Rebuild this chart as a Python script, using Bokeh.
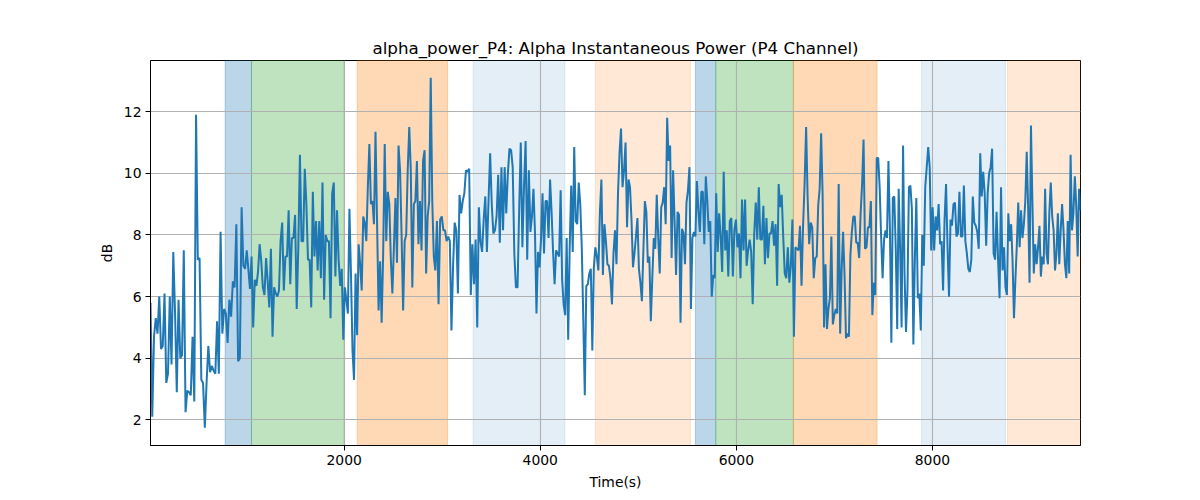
import numpy as np
from bokeh.plotting import figure
from bokeh.models import BoxAnnotation, FixedTicker, Range1d
from bokeh.embed import file_html
from bokeh.resources import INLINE

title_text = "alpha_power_P4: Alpha Instantaneous Power (P4 Channel)"
x_label = "Time(s)"
y_label = "dB"

x_ticks = [2000, 4000, 6000, 8000]
y_ticks = [2, 4, 6, 8, 10, 12]

# time boundaries of the read-off segments (s)
seg_bounds = [25, 990, 1960, 2930, 3900, 4870, 5840, 6805, 7775, 8745, 9510]

seg1 = [5.8, 2.1, 4.7, 5.3, 4.8, 6.0, 4.3, 4.4, 6.1, 3.2, 3.5, 6.0, 3.8, 7.45, 5.5, 2.9, 5.9, 4.0, 4.1,
        7.5, 2.25, 2.95, 2.9, 2.8, 4.7, 2.6, 11.9, 7.2, 7.25, 3.3, 3.2, 1.75, 3.2, 4.4, 3.55, 3.75, 3.6,
        3.5, 5.2, 3.5, 8.1, 4.8, 5.6, 5.45, 4.5, 5.9, 5.35, 6.5, 6.3, 8.35, 3.9, 4.0, 8.9, 7.0]
seg2 = [6.9, 7.5, 6.9, 6.25, 7.3, 5.0, 6.55, 6.35, 6.8, 7.7, 7.15, 6.3, 6.05, 7.25, 6.5, 5.65, 7.55,
        4.7, 6.3, 6.1, 6.0, 6.2, 7.8, 8.4, 6.2, 7.3, 7.3, 8.8, 6.4, 7.9, 7.9, 8.65, 5.6, 7.6, 10.6, 7.8,
        7.8, 10.15, 9.0, 7.2, 7.2, 5.65, 9.4, 7.3, 8.45, 6.85, 8.45, 6.6, 9.7, 5.9, 8.0, 7.8, 7.8, 5.3,
        9.35, 9.7, 6.65, 8.8, 7.2]
seg3 = [6.35, 6.9, 4.6, 6.3, 5.9, 5.45, 8.85, 6.75, 4.25, 3.3, 6.75, 4.75, 7.7, 7.05, 6.2, 8.6, 8.4,
        7.8, 9.55, 10.95, 9.0, 9.1, 8.35, 11.35, 8.45, 5.55, 7.15, 5.15, 7.4, 10.95, 7.8, 9.4, 9.0, 7.2,
        6.1, 7.6, 9.2, 7.1, 10.9, 10.1, 8.0, 5.55, 7.8, 8.0, 10.1, 11.5, 10.1, 6.3, 9.0, 9.1, 10.4, 7.7,
        9.1, 7.5, 10.4, 10.75, 6.75, 8.6, 9.1, 13.1, 9.1, 7.3]
seg4 = [6.85, 8.45, 5.75, 8.5, 8.6, 8.15, 8.15, 7.8, 7.95, 7.8, 4.9, 7.0, 8.4, 8.15, 6.1, 9.3, 8.7,
        9.1, 9.35, 10.1, 10.05, 10.15, 6.05, 7.7, 6.4, 7.85, 5.0, 8.9, 7.8, 7.45, 8.5, 9.25, 7.45, 9.1,
        10.65, 9.0, 8.05, 8.15, 8.6, 9.95, 7.75, 10.2, 8.15, 10.2, 8.7, 10.0, 10.8, 10.75, 10.2, 7.4,
        6.3, 6.3, 8.8, 11.0, 7.6, 9.55, 11.05, 7.2, 10.1]
seg5 = [8.1, 8.6, 9.5, 8.1, 5.45, 7.45, 6.95, 7.85, 9.35, 7.4, 9.1, 9.1, 7.9, 9.8, 8.75, 7.45, 6.4,
        7.5, 7.4, 7.3, 9.45, 6.55, 5.75, 5.4, 7.9, 4.6, 7.6, 9.6, 7.45, 10.85, 8.45, 8.35, 9.7, 9.0,
        7.6, 5.3, 2.8, 6.35, 6.4, 6.75, 6.9, 4.25, 6.95, 7.6, 7.3, 6.85, 8.7, 9.8, 6.7, 8.35, 7.8, 7.05,
        7.0, 6.6, 5.75, 7.4, 8.15, 7.05, 9.35, 10.65, 11.45, 9.55, 10.1]
seg6 = [11.0, 8.25, 9.8, 9.55, 8.5, 6.95, 7.4, 7.95, 8.55, 6.9, 6.45, 5.85, 7.5, 9.1, 8.75, 7.1, 7.3,
        5.2, 6.6, 7.9, 7.55, 9.3, 7.9, 6.75, 8.9, 9.05, 9.55, 8.35, 11.8, 10.4, 10.9, 7.25, 10.1, 8.45,
        6.7, 8.75, 8.65, 5.15, 8.2, 8.05, 7.05, 9.05, 9.45, 10.2, 5.6, 7.9, 8.1, 7.95, 9.75, 8.8, 8.1,
        9.4, 9.4, 7.7, 9.9, 9.1, 8.1, 8.45, 6.0, 6.7, 6.6, 9.35, 7.45, 8.7]
seg7 = [7.95, 6.8, 10.05, 7.5, 8.15, 6.65, 8.45, 8.55, 6.65, 8.15, 8.5, 7.6, 8.05, 6.6, 9.15, 7.5,
        9.15, 7.0, 7.5, 7.85, 7.45, 5.75, 8.05, 9.05, 7.85, 9.55, 7.85, 7.85, 8.95, 7.05, 8.55, 7.25,
        8.05, 8.05, 8.45, 7.65, 8.35, 6.35, 9.65, 8.9, 9.3, 7.95, 6.75, 6.6, 7.6, 6.45, 7.0, 8.5, 4.7,
        7.6, 7.55, 7.5, 8.3, 6.35, 8.3, 9.65, 11.5, 9.2, 7.7, 8.4, 8.25, 6.6]
seg8 = [7.25, 7.3, 8.95, 9.5, 11.3, 9.35, 5.0, 7.05, 4.95, 5.6, 5.95, 7.95, 5.1, 5.4, 5.6, 5.45, 9.65,
        4.8, 6.85, 8.1, 6.7, 4.65, 4.8, 4.7, 7.35, 8.1, 8.6, 8.6, 7.75, 7.75, 7.25, 8.7, 9.65, 11.1,
        7.55, 7.6, 8.25, 8.25, 9.1, 5.4, 6.45, 6.05, 10.5, 10.5, 9.55, 7.95, 6.6, 7.85, 8.15, 7.9, 10.4,
        8.25, 4.5, 9.2, 9.25, 7.55, 4.95, 9.5, 7.55, 5.0, 10.9, 6.75, 4.85, 6.2, 9.55]
seg9 = [9.6, 8.85, 4.45, 7.2, 9.2, 5.95, 6.1, 4.9, 8.0, 7.0, 9.55, 10.2, 10.85, 10.2, 7.5, 8.9, 7.5,
        8.6, 8.15, 9.0, 7.7, 7.8, 6.2, 8.5, 9.65, 7.6, 6.0, 8.5, 8.3, 9.0, 9.05, 7.95, 8.05, 9.4, 7.95,
        7.95, 9.6, 7.8, 7.4, 6.9, 6.8, 7.2, 9.25, 8.4, 8.3, 8.1, 7.55, 10.65, 9.25, 10.05, 9.35, 7.65,
        9.35, 10.0, 10.2, 10.8, 7.4, 7.2, 8.75, 7.2, 5.95, 9.55, 6.85, 7.6]
seg10 = [6.3, 6.05, 8.7, 7.8, 8.35, 7.15, 5.3, 6.55, 7.65, 9.05, 7.6, 8.8, 7.9, 8.35, 9.1, 10.7, 8.9,
         6.45, 11.55, 9.1, 6.75, 7.7, 7.05, 7.6, 8.3, 6.65, 7.3, 7.05, 9.5, 7.4, 7.05, 8.75, 9.7, 8.6,
         8.15, 6.85, 7.4, 8.7, 7.05, 8.15, 9.0, 8.15, 7.05, 6.6, 8.45, 6.75, 10.6, 8.15, 8.7, 9.9, 8.95,
         7.3, 9.5, 8.8]
segments = [seg1, seg2, seg3, seg4, seg5, seg6, seg7, seg8, seg9, seg10]

# shaded intervals: (start, end, color, alpha)
span_starts = [786, 1055, 2133, 3316, 4561, 5582, 5790, 6582, 7888, 8765]
span_ends = [1055, 2000, 3055, 4252, 5531, 5790, 6582, 7435, 8745, 9510]
span_colors = ["#1f77b4", "#2ca02c", "#ff7f0e", "#1f77b4", "#ff7f0e",
               "#1f77b4", "#2ca02c", "#ff7f0e", "#1f77b4", "#ff7f0e"]
span_alphas = [0.3, 0.3, 0.3, 0.12, 0.17, 0.3, 0.3, 0.3, 0.12, 0.17]

times = []
values = []
for i, seg in enumerate(segments):
    last = i == len(segments) - 1
    times.extend(np.linspace(seg_bounds[i], seg_bounds[i + 1], len(seg), endpoint=last).tolist())
    values.extend(seg)

p = figure(width=1192, height=492, output_backend="svg", toolbar_location=None,
           x_range=Range1d(25, 9510), y_range=Range1d(1.17, 13.66),
           min_border_left=150, min_border_right=112, min_border_top=60, min_border_bottom=47)

for s, e, c, a in zip(span_starts, span_ends, span_colors, span_alphas):
    p.add_layout(BoxAnnotation(left=s, right=e, fill_color=c, fill_alpha=a,
                               line_color=c, line_alpha=a, line_width=1, level="image"))

p.line(times, values, line_color="#1f77b4", line_width=2)

p.title.text = title_text
p.title.align = "center"
p.title.text_font = "DejaVu Sans"
p.title.text_font_size = "16.7px"
p.title.text_font_style = "normal"
p.title.text_color = "black"
p.title.standoff = 6

p.xaxis.ticker = FixedTicker(ticks=x_ticks)
p.yaxis.ticker = FixedTicker(ticks=y_ticks)
p.xaxis.axis_label = x_label
p.yaxis.axis_label = y_label
for ax in (p.xaxis, p.yaxis):
    ax.axis_label_text_font = "DejaVu Sans"
    ax.axis_label_text_font_size = "13.9px"
    ax.axis_label_text_font_style = "normal"
    ax.axis_label_text_color = "black"
    ax.major_label_text_font = "DejaVu Sans"
    ax.major_label_text_font_size = "13.9px"
    ax.major_label_text_color = "black"
    ax.major_tick_in = 0
    ax.major_tick_out = 5
    ax.minor_tick_in = 0
    ax.minor_tick_out = 0
    ax.axis_line_color = "black"
    ax.major_tick_line_color = "black"
    ax.axis_label_standoff = 6
p.xaxis.major_label_standoff = 4
p.yaxis.major_label_standoff = 4

p.grid.grid_line_color = "#b0b0b0"
p.grid.grid_line_width = 1.1
p.outline_line_color = "black"
p.outline_line_alpha = 1
p.outline_line_width = 1
p.background_fill_color = "white"

open("out.html", "w").write(file_html(p, INLINE))
